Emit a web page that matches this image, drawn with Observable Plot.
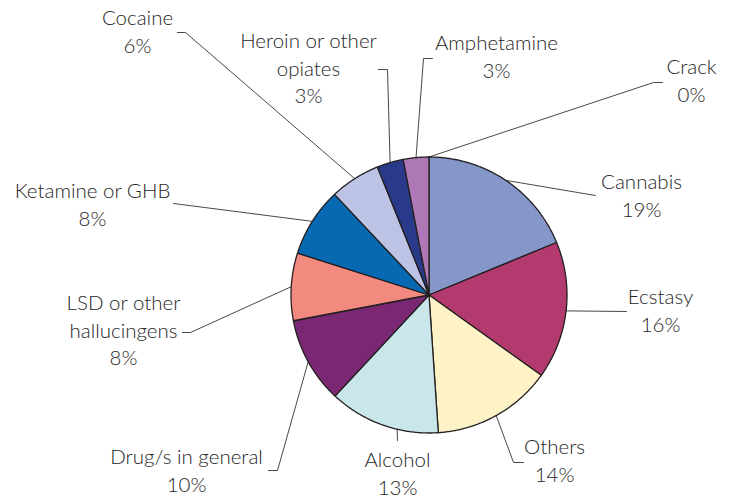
<!DOCTYPE html>
<html><head><meta charset="utf-8">
<script src="https://cdn.jsdelivr.net/npm/d3@7"></script>
<script src="https://cdn.jsdelivr.net/npm/@observablehq/plot@0.6"></script>
<style>html,body{margin:0;padding:0;background:#fff}svg{display:block}</style>
</head><body><div id="chart"></div>
<script>
// ---- data ----
const categories = ["Cannabis","Ecstasy","Others","Alcohol","Drug/s in general","LSD or other hallucingens","Ketamine or GHB","Cocaine","Heroin or other opiates","Amphetamine","Crack"];
const shares = [18.8, 16.1, 14.05, 13.0, 10.1, 7.9, 8.1, 5.9, 3.1, 3.0, 0];
const percentLabels = ["19%","16%","14%","13%","10%","8%","8%","6%","3%","3%","0%"];
const nameLines = [["Cannabis"],["Ecstasy"],["Others"],["Alcohol"],["Drug/s in general"],["LSD or other","hallucingens"],["Ketamine or GHB"],["Cocaine"],["Heroin or other","opiates"],["Amphetamine"],["Crack"]];
const sliceColors = ["#8596c9","#b23a6e","#fdf3c7","#c9e7ea","#7a2873","#f38a80","#0669b2","#bcc3e4","#2a3a8b","#ad78b5","#dddddd"];

// ---- layout (pixel frame) ----
const W = 736, H = 499;
const pie = {cx: 428.5, cy: 294.5, r: 138};
const lineGap = 27.5;
const labelLayout = [
  {tx: 641, ty: 182, elbows: [[595,195]]},
  {tx: 660, ty: 297, elbows: [[626,311]]},
  {tx: 554, ty: 447, elbows: [[513,462],[523,462]]},
  {tx: 397, ty: 460, elbows: [[397,440]], at: 0.537},
  {tx: 186, ty: 457, elbows: [[277,470],[268,470]]},
  {tx: 123, ty: 303, elbows: [[190,332],[182,332]]},
  {tx: 92,  ty: 191, elbows: [[173,203]]},
  {tx: 137, ty: 18,  elbows: [[185,32],[177,32]]},
  {tx: 308, ty: 41,  elbows: [[387,69],[378,69]]},
  {tx: 496, ty: 43,  elbows: [[423,58],[432,58]]},
  {tx: 691, ty: 67,  elbows: [[653,82],[662,82]]}
];

const total = d3.sum(shares);
const polar = (frac, rr = 1) => {
  const a = frac * 2 * Math.PI;
  return [pie.cx + pie.r * rr * Math.sin(a), pie.cy - pie.r * rr * Math.cos(a)];
};

// slice polygons
const slicePts = [];
let cum = 0;
const bounds = categories.map((c, i) => {
  const s = cum / total, e = (cum + shares[i]) / total;
  cum += shares[i];
  return {s, e};
});
categories.forEach((c, i) => {
  const {s, e} = bounds[i];
  if (e - s <= 0) return;
  slicePts.push({k: c, x: pie.cx, y: pie.cy});
  const n = Math.max(2, Math.ceil((e - s) * 720));
  for (let j = 0; j <= n; j++) {
    const [x, y] = polar(s + (e - s) * j / n);
    slicePts.push({k: c, x, y});
  }
  slicePts.push({k: c, x: pie.cx, y: pie.cy});
});

// leaders
const leaderPts = [];
categories.forEach((c, i) => {
  const L = labelLayout[i];
  const f = L.at ?? (bounds[i].s + bounds[i].e) / 2;
  const [x0, y0] = polar(f);
  leaderPts.push({k: c, x: x0, y: y0});
  L.elbows.forEach(([x, y]) => leaderPts.push({k: c, x, y}));
});

// text rows
const textRows = [];
categories.forEach((c, i) => {
  const L = labelLayout[i];
  const lines = [...nameLines[i], percentLabels[i]];
  lines.forEach((t, j) => textRows.push({t, x: L.tx, y: L.ty + j * lineGap}));
});

const chart = Plot.plot({
  width: W, height: H,
  margin: 0,
  style: {fontFamily: "Lato, sans-serif", background: "#fff", overflow: "visible"},
  x: {domain: [0, W], range: [0, W], axis: null},
  y: {domain: [0, H], range: [0, H], axis: null},
  color: {domain: categories, range: sliceColors},
  marks: [
    Plot.line(leaderPts, {x: "x", y: "y", z: "k", stroke: "#333", strokeWidth: 0.9, curve: "linear"}),
    Plot.line(slicePts, {x: "x", y: "y", z: "k", fill: "k", stroke: "#231f20", strokeWidth: 1.3, strokeLinejoin: "round", curve: "linear"}),
    Plot.text(textRows, {x: "x", y: "y", text: "t", fontSize: 20.5, fontWeight: 300, fill: "#262626", textAnchor: "middle", lineAnchor: "middle"})
  ]
});
document.getElementById("chart").appendChild(chart);
</script>
</body></html>
